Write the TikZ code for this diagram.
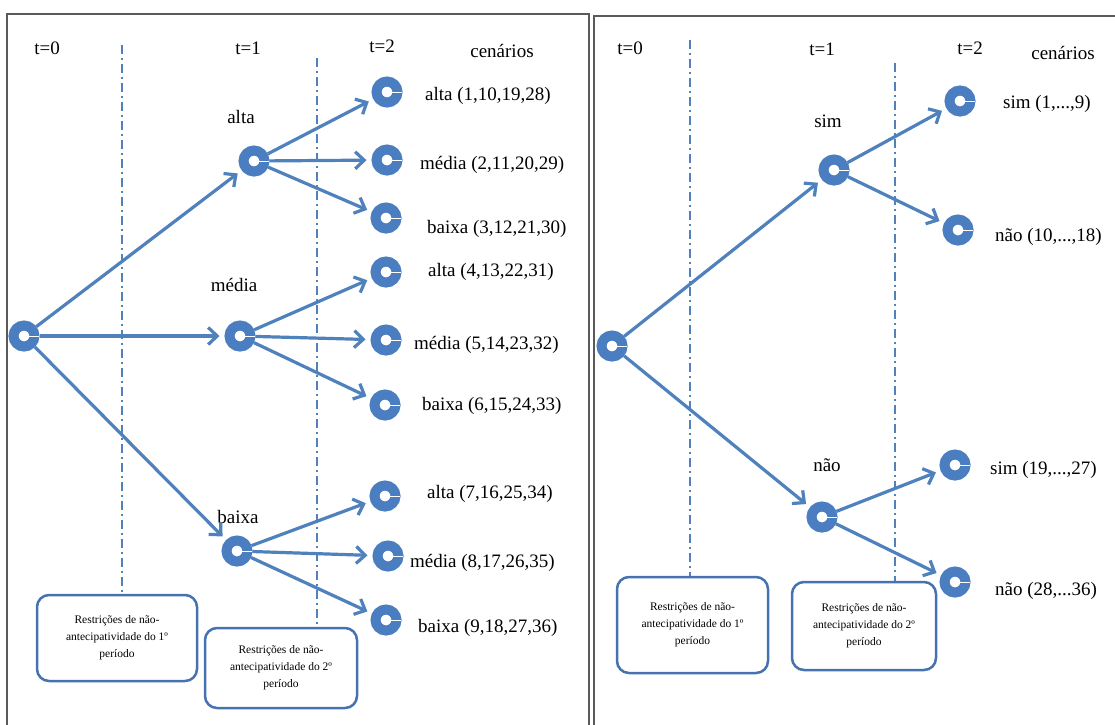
\documentclass[tikz,border=0pt]{standalone}
\usepackage{fontspec}
\setmainfont{Liberation Serif}
\usetikzlibrary{arrows.meta}
\definecolor{ringblue}{HTML}{4A7EC0}
\definecolor{arrowblue}{HTML}{4F81BD}
\definecolor{boxblue}{HTML}{4672B0}
\definecolor{framegray}{HTML}{5A5A5A}
\begin{document}
\begin{tikzpicture}[x=1pt,y=-1pt,
  ring/.style={circle, draw=ringblue, line width=10pt, fill=white, minimum size=21pt, inner sep=0pt},
  arr/.style={draw=arrowblue, line width=3.2pt, shorten >=5pt, -{Straight Barb[length=9pt,width=17pt]}},
  lab/.style={font=\fontsize{19}{22}\selectfont, inner sep=0pt},
  scen/.style={lab, anchor=west},
  cons/.style={draw=boxblue, line width=2.5pt, rounded corners=12pt, align=center,
    font=\fontsize{11.5}{17}\selectfont, inner sep=0pt},
  period/.style={draw=arrowblue, line width=1.3pt, dash pattern=on 9pt off 4pt on 2pt off 4pt},
  frame/.style={draw=framegray, line width=1.5pt}
]
\useasboundingbox (0,0) rectangle (1115,724);
\clip (0,0) rectangle (1115,724);
\fill[white] (0,0) rectangle (1115,724);

% frames
\draw[frame] (7,730) -- (7,14) -- (589,14) -- (589,730);
\draw[frame] (594,730) -- (594,16) -- (1125,16);

% ---------------- left panel ----------------
\node[lab] (lt0) at (47,48) {t=0};
\node[lab] (lt1) at (248,48) {t=1};
\node[lab] (lt2) at (382,46) {t=2};
\node[lab] (lcen) at (502,51) {cenários};

\node[cons, minimum width=160pt, minimum height=86pt] (lbox1) at (117,638)
  {Restrições de não-\\antecipatividade do 1º\\período};
\node[cons, minimum width=152pt, minimum height=80pt] (lbox2) at (281,668)
  {Restrições de não-\\antecipatividade do 2º\\período};

\draw[period] (122,45) -- (lbox1.north -| 122,0);
\draw[period] (317,58) -- (lbox2.north -| 317,0);

\node[ring] (L0) at (24,336) {};
\node[ring] (A) at (254,161) {};
\node[ring] (M) at (240,336) {};
\node[ring] (B) at (237,551) {};
\node[ring] (a1) at (387,92) {};
\node[ring] (a2) at (387,160) {};
\node[ring] (a3) at (386,218) {};
\node[ring] (m1) at (386,272) {};
\node[ring] (m2) at (386,340) {};
\node[ring] (m3) at (385,405) {};
\node[ring] (b1) at (385,496) {};
\node[ring] (b2) at (388,556) {};
\node[ring] (b3) at (386,620) {};

\node[lab] (lA) at (241,117) {alta};
\node[lab] (lM) at (234,285) {média};
\node[lab] (lB) at (238,517) {baixa};

\node[scen] (sa1) at (425,96) {alta (1,10,19,28)};
\node[scen] (sa2) at (420,165) {média (2,11,20,29)};
\node[scen] (sa3) at (427,229) {baixa (3,12,21,30)};
\node[scen] (sm1) at (428,272) {alta (4,13,22,31)};
\node[scen] (sm2) at (414,345) {média (5,14,23,32)};
\node[scen] (sm3) at (422,406) {baixa (6,15,24,33)};
\node[scen] (sb1) at (427,494) {alta (7,16,25,34)};
\node[scen] (sb2) at (410,563) {média (8,17,26,35)};
\node[scen] (sb3) at (418,628) {baixa (9,18,27,36)};

\foreach \t in {A,M,B} \draw[arr] (L0) -- (\t);
\foreach \t in {a1,a2,a3} \draw[arr] (A) -- (\t);
\foreach \t in {m1,m2,m3} \draw[arr] (M) -- (\t);
\foreach \t in {b1,b2,b3} \draw[arr] (B) -- (\t);

% ---------------- right panel ----------------
\node[lab] (rt0) at (630,48) {t=0};
\node[lab] (rt1) at (822,49) {t=1};
\node[lab] (rt2) at (970,48) {t=2};
\node[lab] (rcen) at (1063,53) {cenários};

\node[cons, minimum width=151pt, minimum height=96pt] (rbox1) at (692.5,625)
  {Restrições de não-\\antecipatividade do 1º\\período};
\node[cons, minimum width=144pt, minimum height=88pt] (rbox2) at (864,626)
  {Restrições de não-\\antecipatividade do 2º\\período};

\draw[period] (690,40) -- (rbox1.north -| 690,0);
\draw[period] (895,63) -- (rbox2.north -| 895,0);

\node[ring] (R0) at (612,346) {};
\node[ring] (S) at (834,170) {};
\node[ring] (N) at (822,517) {};
\node[ring] (s1) at (960,101) {};
\node[ring] (s2) at (958,230) {};
\node[ring] (n1) at (955,465) {};
\node[ring] (n2) at (955,582) {};

\node[lab] (lS) at (828,121) {sim};
\node[lab] (lN) at (827,465) {não};

\node[scen] (ss1) at (1003,104) {sim (1,...,9)};
\node[scen] (ss2) at (995,237) {não (10,...,18)};
\node[scen] (sn1) at (990,470) {sim (19,...,27)};
\node[scen] (sn2) at (995,591) {não (28,...36)};

\foreach \t in {S,N} \draw[arr] (R0) -- (\t);
\foreach \t in {s1,s2} \draw[arr] (S) -- (\t);
\foreach \t in {n1,n2} \draw[arr] (N) -- (\t);

% white highlight ticks on rings
\foreach \n in {L0,A,M,B,a1,a2,a3,m1,m2,m3,b1,b2,b3,R0,S,N,s1,s2,n1,n2}
  \draw[white, line width=1pt] (\n.center) -- ([xshift=15pt]\n.center);
\end{tikzpicture}
\end{document}
